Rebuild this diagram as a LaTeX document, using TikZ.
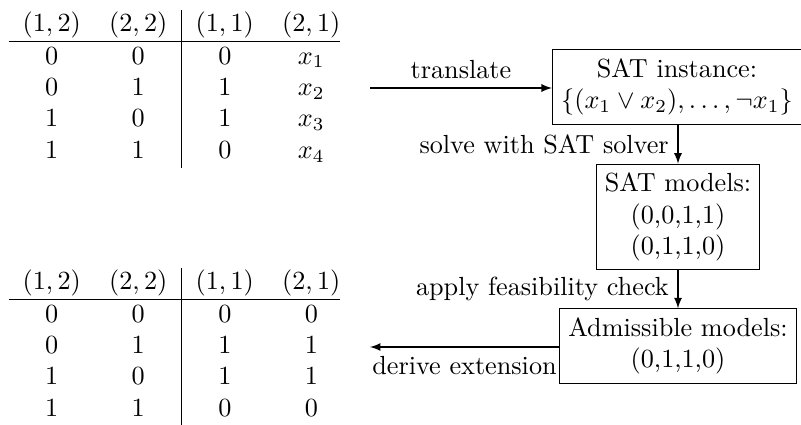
\documentclass[tikz,border=0pt]{standalone}
\begin{document}
\begin{tikzpicture}[x=0.3817pt,y=-0.3817pt]
\tikzstyle{box}=[rectangle,draw,align=center]
\tikzstyle{flow}=[-latex]
\tikzstyle{tab}=[anchor=north west,inner sep=0]
\setlength{\arraycolsep}{5.4pt}
\useasboundingbox (0,0) rectangle (801,424);
% input and output tables
\node[tab] (intab) at (8,9) {$\begin{array}{cc|c c@{}}
(1,2) & (2,2) & (1,1) & (2,1)\\ \hline
0 & 0 & 0 & x_1\\
0 & 1 & 1 & x_2\\
1 & 0 & 1 & x_3\\
1 & 1 & 0 & x_4
\end{array}$};
\node[tab] (outtab) at (8,267) {$\begin{array}{cc|c c@{}}
(1,2) & (2,2) & (1,1) & (2,1)\\ \hline
0 & 0 & 0 & 0\\
0 & 1 & 1 & 1\\
1 & 0 & 1 & 1\\
1 & 1 & 0 & 0
\end{array}$};
% pipeline
\node[box] (inst) at (677,87) {SAT instance:\\ $\{(x_1 \vee x_2), \ldots, \neg x_1\}$};
\node[box] (models) at (678,217) {SAT models:\\ (0,0,1,1)\\ (0,1,1,0)};
\node[box] (adm) at (678,346) {Admissible models:\\ (0,1,1,0)};
\coordinate (tin) at (370,88);
\coordinate (tout) at (370,347);
\draw[flow] (tin) -- node[above] {translate} (tin -| inst.west);
\draw[flow] (models.north |- inst.south) -- node[left] {solve with SAT solver} (models.north);
\draw[flow] (models.south) -- node[left] {apply feasibility check} (models.south |- adm.north);
\draw[flow] (tout -| adm.west) -- node[below] {derive extension} (tout);
\end{tikzpicture}
\end{document}
